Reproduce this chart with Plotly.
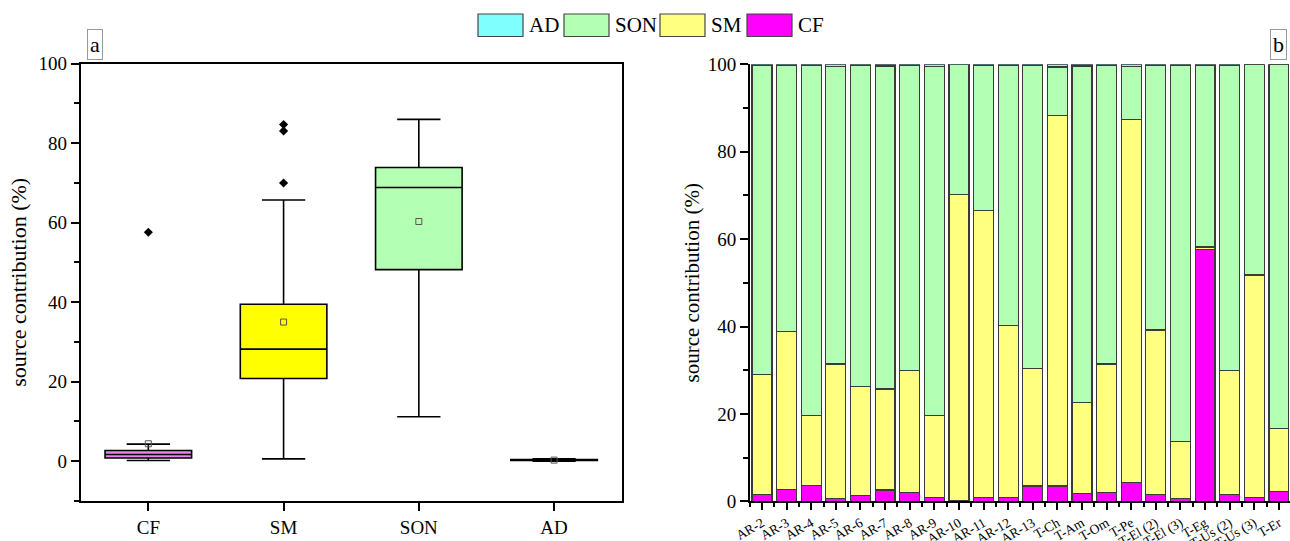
import numpy as np
import plotly.graph_objects as go

# ---------------- data ----------------
samples = ["AR-2", "AR-3", "AR-4", "AR-5", "AR-6", "AR-7", "AR-8", "AR-9", "AR-10", "AR-11",
           "AR-12", "AR-13", "T-Ch", "T-Am", "T-Om", "T-Pe", "T-El (2)", "T-El (3)", "T-Eg",
           "T-Us (2)", "T-Us (3)", "T-Er"]
cf = [1.5, 2.7, 3.7, 0.7, 1.3, 2.6, 2.0, 0.9, 0.2, 0.8, 0.8, 3.5, 3.5, 1.8, 2.1, 4.3, 1.6, 0.6,
      57.6, 1.5, 0.8, 2.2]
sm = [27.6, 36.1, 15.9, 30.7, 25.0, 23.1, 28.0, 18.7, 70.0, 65.7, 39.5, 26.9, 84.7, 20.8, 29.3,
      83.1, 37.6, 13.1, 0.6, 28.4, 51.0, 14.5]
son = [70.6, 60.9, 80.1, 68.1, 73.5, 73.9, 69.8, 79.9, 29.7, 33.3, 59.5, 69.3, 11.2, 77.0, 68.4,
       12.1, 60.6, 86.0, 41.5, 69.8, 48.2, 83.3]
ad = [0.3, 0.3, 0.3, 0.5, 0.2, 0.4, 0.2, 0.5, 0.1, 0.2, 0.2, 0.3, 0.6, 0.4, 0.2, 0.5, 0.2, 0.3,
      0.3, 0.3, 0.0, 0.0]

box_names = ["CF", "SM", "SON", "AD"]
box_fill = {"CF": "#EE82EE", "SM": "#FFFF00", "SON": "#B3FFB3", "AD": "#80FFFF"}
bar_color = {"CF": "#FF00FF", "SM": "#FFFF80", "SON": "#B3FFB3", "AD": "#80FFFF"}
legend_order = ["AD", "SON", "SM", "CF"]
series = {"CF": cf, "SM": sm, "SON": son, "AD": ad}

FONT = "Liberation Serif, Times New Roman, serif"
W, H = 1290, 541

fig = go.Figure()

# ---------------- panel a: box plots ----------------
for name in box_names:
    vals = series[name]
    fig.add_trace(go.Box(
        y=vals, name=name, x=[name] * len(vals), xaxis="x", yaxis="y",
        quartilemethod="exclusive", boxpoints="outliers", jitter=0, pointpos=0,
        width=0.64, whiskerwidth=0.5,
        fillcolor=box_fill[name], line=dict(color="black", width=1.6),
        marker=dict(symbol="diamond", size=7, color="black"),
        showlegend=False,
    ))
    fig.add_trace(go.Scatter(
        x=[name], y=[float(np.mean(vals))], mode="markers", xaxis="x", yaxis="y",
        marker=dict(symbol="square-open", size=6, color="#555555", line=dict(width=1)),
        showlegend=False, hoverinfo="skip",
    ))

# ---------------- panel b: stacked bars ----------------
xpos = list(range(len(samples)))
for name in ["CF", "SM", "SON", "AD"]:
    fig.add_trace(go.Bar(
        x=xpos, y=series[name], name=name, xaxis="x2", yaxis="y2",
        marker=dict(color=bar_color[name], line=dict(color="#3a3a3a", width=1.2)),
        showlegend=False,
    ))

tickfont = dict(family=FONT, size=19, color="black")
fig.update_layout(
    width=W, height=H,
    margin=dict(l=0, r=0, t=0, b=0, autoexpand=False),
    paper_bgcolor="white", plot_bgcolor="white",
    font=dict(family=FONT, color="black"),
    boxmode="overlay", barmode="stack", bargap=0.19,
    xaxis=dict(
        domain=[80.7 / W, 621.7 / W], anchor="y", type="category", automargin=False,
        categoryorder="array", categoryarray=box_names, range=[-0.5, 3.5],
        showline=True, linecolor="black", linewidth=1.6, mirror=True,
        ticks="outside", ticklen=8, tickwidth=1.5, tickcolor="black",
        showgrid=False, zeroline=False, tickfont=tickfont,
    ),
    yaxis=dict(
        domain=[1 - 501 / H, 1 - 63.7 / H], anchor="x", range=[-10, 100], automargin=False,
        tick0=0, dtick=20, showline=True, linecolor="black", linewidth=1.6, mirror=True,
        ticks="outside", ticklen=8, tickwidth=1.5, tickcolor="black",
        minor=dict(dtick=10, tick0=0, ticks="outside", ticklen=5, tickwidth=1.5, tickcolor="black"),
        showgrid=False, zeroline=False, tickfont=tickfont,
        title=dict(text="source contribution (%)", font=dict(family=FONT, size=22, color="black"),
                   standoff=6),
    ),
    xaxis2=dict(
        domain=[749.7 / W, 1.0], anchor="y2", range=[-0.5, 21.45], automargin=False,
        tickmode="array", tickvals=xpos, ticktext=samples, tickangle=-30,
        showline=True, linecolor="black", linewidth=1.5,
        ticks="outside", ticklen=7, tickwidth=1.5, tickcolor="black",
        minor=dict(tickvals=[i - 0.5 for i in range(len(samples) + 1)], ticks="outside",
                   ticklen=4, tickwidth=1.5, tickcolor="black"),
        showgrid=False, zeroline=False,
        tickfont=dict(family=FONT, size=13.5, color="black"),
    ),
    yaxis2=dict(
        domain=[1 - 501.3 / H, 1 - 64.3 / H], anchor="x2", range=[0, 100], automargin=False,
        tick0=0, dtick=20, showline=True, linecolor="black", linewidth=1.5,
        ticks="outside", ticklen=8, tickwidth=1.5, tickcolor="black",
        minor=dict(dtick=10, tick0=0, ticks="outside", ticklen=5, tickwidth=1.5, tickcolor="black"),
        showgrid=False, zeroline=False, tickfont=dict(family=FONT, size=19, color="black"),
        title=dict(text="source contribution (%)", font=dict(family=FONT, size=21, color="black"),
                   standoff=2),
    ),
)

# ---------------- legend (drawn as swatches + text) ----------------
sw_x = [478, 564, 660, 747]
for name, x0 in zip(legend_order, sw_x):
    fig.add_shape(type="rect", xref="paper", yref="paper",
                  x0=x0 / W, x1=(x0 + 45) / W, y0=1 - 36.5 / H, y1=1 - 14 / H,
                  fillcolor=bar_color[name], line=dict(color="#444444", width=1.2))
    fig.add_annotation(text=name, xref="paper", yref="paper", x=(x0 + 49) / W, y=1 - 25 / H,
                       xanchor="left", yanchor="middle", showarrow=False,
                       font=dict(family=FONT, size=21, color="black"))

# ---------------- panel labels ----------------
fig.add_annotation(text="a", xref="paper", yref="paper", x=94.7 / W, y=1 - 44.5 / H,
                   xanchor="center", yanchor="middle", showarrow=False,
                   font=dict(family=FONT, size=22, color="black"),
                   bordercolor="#999999", borderwidth=1, borderpad=2, bgcolor="white")
fig.add_annotation(text="b", xref="paper", yref="paper", x=1278.5 / W, y=1 - 44 / H,
                   xanchor="center", yanchor="middle", showarrow=False,
                   font=dict(family=FONT, size=22, color="black"),
                   bordercolor="#999999", borderwidth=1, borderpad=2, bgcolor="white")

fig.write_html("out.html")
